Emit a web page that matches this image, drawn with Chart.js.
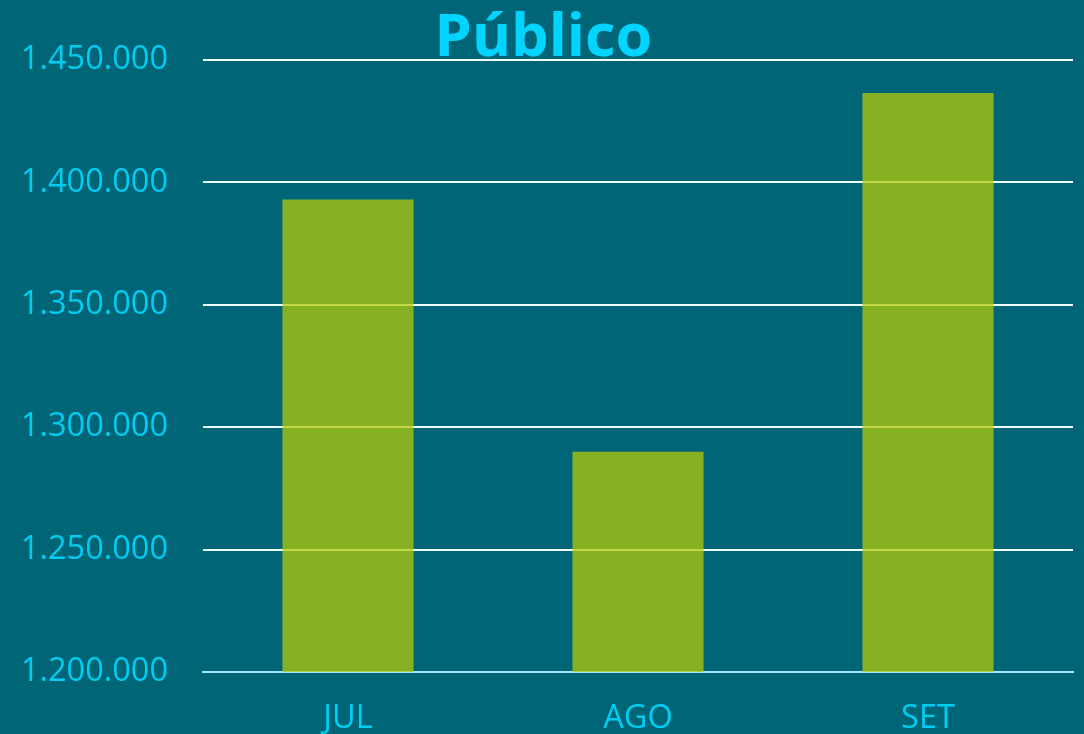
<!DOCTYPE html>
<html>
<head>
<meta charset="utf-8">
<script src="https://cdn.jsdelivr.net/npm/chart.js@4/dist/chart.umd.min.js"></script>
<style>
  html, body { margin: 0; padding: 0; background: #006576; }
  #wrap { width: 1084px; height: 734px; }
</style>
</head>
<body>
<div id="wrap"><canvas id="c" width="1084" height="734"></canvas></div>
<script>
const categories = ['JUL', 'AGO', 'SET'];
const publico = [1393000, 1290000, 1436500];
const yMin = 1200000;
const yMax = 1450000;
const yStep = 50000;
const titleText = 'Público';

function fmt(v) {
  return String(Math.round(v)).replace(/\B(?=(\d{3})+(?!\d))/g, '.');
}

const cyan = '#00cdf2';

new Chart(document.getElementById('c'), {
  type: 'bar',
  data: {
    labels: categories,
    datasets: [{
      label: titleText,
      data: publico,
      backgroundColor: 'rgba(179,203,8,0.75)',
      borderWidth: 0,
      barPercentage: 0.452,
      categoryPercentage: 1.0
    }]
  },
  options: {
    responsive: false,
    animation: false,
    layout: { padding: { left: 14, right: 11, top: 0, bottom: 0 } },
    plugins: {
      legend: { display: false },
      tooltip: { enabled: false },
      title: {
        display: true,
        text: titleText,
        color: '#00d4ff',
        font: { family: 'Open Sans', size: 59.5, weight: 'bold', lineHeight: 0.7 },
        padding: { top: 18.2, bottom: 0 }
      }
    },
    scales: {
      x: {
        grid: { display: false, drawTicks: false },
        border: { display: true, color: '#9eeaf6', width: 2 },
        ticks: {
          color: cyan,
          font: { family: 'Open Sans', size: 32.5 },
          padding: 27
        },
        afterFit: (s) => { s.height = 62; }
      },
      y: {
        min: yMin,
        max: yMax,
        grid: {
          color: (ctx) => (ctx.tick && ctx.tick.value === yMin ? '#9eeaf6' : '#eefcff'),
          lineWidth: 2,
          drawTicks: false
        },
        border: { display: false },
        ticks: {
          stepSize: yStep,
          color: cyan,
          font: { family: 'Open Sans', size: 32.5 },
          padding: 35,
          callback: (v) => fmt(v)
        },
        afterFit: (s) => { s.width = 189; }
      }
    }
  }
});
</script>
</body>
</html>
